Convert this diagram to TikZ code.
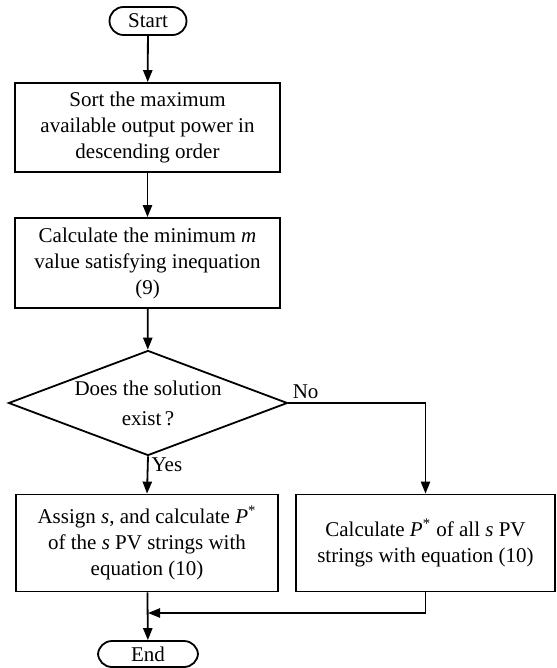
\documentclass[tikz,border=0pt]{standalone}
\usepackage{fontspec}
\setmainfont{Liberation Serif}
\usetikzlibrary{shapes.geometric,arrows.meta}
\tikzset{
    flow/.style={line width=0.9pt, -{Triangle[length=6pt,width=4.6pt]}},
    procbox/.style={draw, line width=0.9pt, rectangle, align=center, inner sep=0pt, font=\fontsize{10.5pt}{13pt}\selectfont},
    termbox/.style={draw, line width=0.9pt, rectangle, rounded corners=7pt, inner sep=0pt, font=\fontsize{10.5pt}{13pt}\selectfont},
    decbox/.style={draw, line width=0.9pt, diamond, aspect=2.66, align=center, inner sep=0pt, font=\fontsize{10.5pt}{15pt}\selectfont}
}
\begin{document}
\begin{tikzpicture}[x=0.5pt, y=-0.5pt]
            \useasboundingbox (0,0) rectangle (556,668);
            \node[termbox, minimum width=38.5pt, minimum height=14pt] (start) at (148,21) {Start};
            \node[procbox, minimum width=132.5pt, minimum height=44.5pt] (sort) at (147.5,127.5) {Sort the maximum\\available output power in\\descending order};
            \node[procbox, minimum width=132.5pt, minimum height=45pt] (minm) at (147.5,263) {Calculate the minimum \textit{m}\\value satisfying inequation\\(9)};
            \node[decbox, minimum width=139.5pt, minimum height=52.5pt] (exist) at (148,403) {Does the solution\\exist\,?};
            \node[procbox, minimum width=131pt, minimum height=48.5pt] (assign) at (147,543) {Assign \textit{s}, and calculate \textit{P}\textsuperscript{*}\\of the \textit{s} PV strings with\\equation (10)};
            \node[procbox, minimum width=129.5pt, minimum height=48.5pt] (allpv) at (425.5,543) {Calculate \textit{P}\textsuperscript{*} of all \textit{s} PV\\strings with equation (10)};
            \node[termbox, minimum width=50pt, minimum height=13pt] (end) at (148,654) {End};
            \coordinate (merge) at (148,613);
            \draw[flow] (start) -- (sort);
            \draw[flow] (sort) -- (minm);
            \draw[flow] (minm) -- (exist);
            \draw[flow] (exist.south) -- node[pos=0.22, right, inner sep=1.5pt, font=\fontsize{10.5pt}{13pt}\selectfont] {Yes} (assign.north);
            \draw[flow] (exist.east) -- (allpv.north |- exist.east) -- (allpv.north);
            \node[anchor=south west, inner sep=2pt, font=\fontsize{10.5pt}{13pt}\selectfont] (no) at (exist.east) {No};
            \draw[flow] (assign) -- (end);
            \draw[flow] (allpv.south) |- (merge);
        \end{tikzpicture}
\end{document}
